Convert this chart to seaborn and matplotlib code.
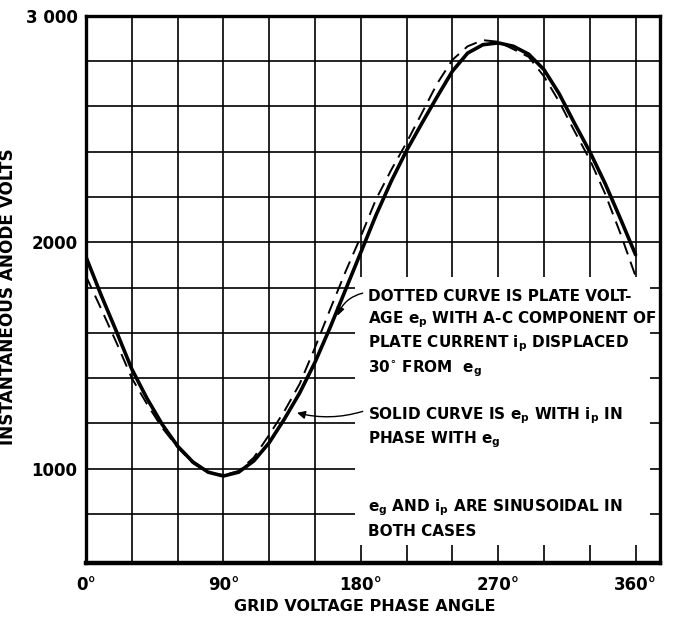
import numpy as np
import pandas as pd
import matplotlib
matplotlib.use("Agg")
import matplotlib.pyplot as plt
import seaborn as sns
from matplotlib.patches import Rectangle

sns.set_style("white")
plt.rcParams['font.family'] = ['DejaVu Sans']
plt.rcParams['mathtext.default'] = 'regular'
plt.rcParams['text.color'] = 'black'
plt.rcParams['axes.labelcolor'] = 'black'
plt.rcParams['xtick.color'] = 'black'
plt.rcParams['ytick.color'] = 'black'

# phase angle in degrees
angle = [0, 10, 20, 30, 40, 50, 60, 70, 80, 90, 100, 110, 120, 130, 140, 150, 160, 170, 180,
         190, 200, 210, 220, 230, 240, 250, 260, 270, 280, 290, 300, 310, 320, 330, 340, 350, 360]
solid_v = [1935, 1765, 1605, 1440, 1310, 1195, 1100, 1030, 985, 968, 985, 1035, 1115, 1220, 1335, 1470,
           1625, 1790, 1955, 2120, 2270, 2405, 2525, 2642, 2755, 2835, 2872, 2880, 2865, 2830, 2762,
           2655, 2525, 2400, 2260, 2105, 1945]
dotted_v = [1850, 1705, 1556, 1400, 1285, 1180, 1095, 1025, 983, 972, 990, 1050, 1150, 1255, 1375, 1535,
            1705, 1870, 2025, 2190, 2320, 2440, 2570, 2700, 2805, 2865, 2892, 2885, 2852, 2818, 2732,
            2620, 2490, 2365, 2215, 2040, 1850]

xtick_pos = [0, 90, 180, 270, 360]
xtick_lab = ['0°', '90°', '180°', '270°', '360°']
ytick_pos = [1000, 2000, 3000]
ytick_lab = ['1000', '2000', '3 000']

df = pd.DataFrame({'angle': angle, 'solid': solid_v, 'dotted': dotted_v})

fig = plt.figure(figsize=(6.85, 6.22), dpi=100)
ax = fig.add_axes([86/685, 1-563/622, 574/685, (563-15.7)/622])

sns.lineplot(data=df, x='angle', y='dotted', ax=ax, color='black', lw=1.4, zorder=3)
ax.lines[-1].set_dashes([7, 4])
sns.lineplot(data=df, x='angle', y='solid', ax=ax, color='black', lw=2.6, zorder=4)

ax.set_xlim(0, 376)
ax.set_ylim(584, 3000)

# grid
for gx in range(30, 376, 30):
    ax.axvline(gx, color='black', lw=1.2, zorder=0.5)
for gy in range(800, 3000, 200):
    ax.axhline(gy, color='black', lw=1.2, zorder=0.5)

# blank area behind the notes
ax.add_patch(Rectangle((176.5, 663), 369.4-176.5, 1845-663, facecolor='white',
                       edgecolor='none', zorder=1))

ax.set_xticks(xtick_pos)
ax.set_xticklabels(xtick_lab)
ax.set_yticks(ytick_pos)
ax.set_yticklabels(ytick_lab)
ax.tick_params(length=0, labelsize=12)
ax.tick_params(axis='x', pad=9)
ax.tick_params(axis='y', pad=6)
for t in ax.get_xticklabels() + ax.get_yticklabels():
    t.set_fontweight('bold')

for s in ax.spines.values():
    s.set_visible(True)
    s.set_color('black')
    s.set_linewidth(2.4)
ax.spines['bottom'].set_linewidth(3.2)

ax.set_xlabel('GRID VOLTAGE PHASE ANGLE', fontsize=11.5, fontweight='bold')
ax.xaxis.set_label_coords((365-86)/574, -0.066)
ax.set_ylabel('INSTANTANEOUS ANODE VOLTS', fontsize=12.2, fontweight='bold')
ax.yaxis.set_label_coords(-0.12, (563-297)/547.3)

txt = dict(fontsize=11.0, fontweight='bold', va='baseline', ha='left', zorder=5)
ax.text(185, 1740, 'DOTTED CURVE IS PLATE VOLT-', **txt)
ax.text(185, 1643, r'AGE $e_p$ WITH A-C COMPONENT OF', **txt)
ax.text(185, 1538, r'PLATE CURRENT $i_p$ DISPLACED', **txt)
ax.text(185, 1427, r'30$^{\circ}$ FROM  $e_g$', **txt)
ax.text(185, 1220, r'SOLID CURVE IS $e_p$ WITH $i_p$ IN', **txt)
ax.text(185, 1114, r'PHASE WITH $e_g$', **txt)
ax.text(185, 813, r'$e_g$ AND $i_p$ ARE SINUSOIDAL IN', **txt)
ax.text(185, 703, 'BOTH CASES', **txt)

ax.annotate('', xy=(164.2, 1664), xytext=(183, 1778),
            arrowprops=dict(arrowstyle='-|>', color='black', lw=1.0,
                            connectionstyle='arc3,rad=0.3', mutation_scale=12), zorder=5)
ax.annotate('', xy=(136.5, 1250), xytext=(183, 1257),
            arrowprops=dict(arrowstyle='-|>', color='black', lw=1.0,
                            connectionstyle='arc3,rad=-0.15', mutation_scale=12), zorder=5)

fig.savefig('out.png', dpi=100)
